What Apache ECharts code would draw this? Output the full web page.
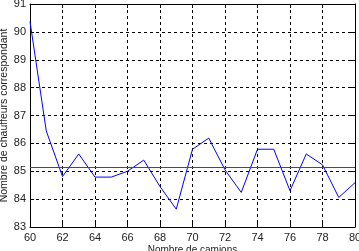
<!DOCTYPE html>
<html><head><meta charset="utf-8">
<script src="https://cdn.jsdelivr.net/npm/echarts@6/dist/echarts.min.js"></script>
<style>html,body{margin:0;padding:0;background:#fff}#c{width:359px;height:251px}</style>
</head><body><div id="c"></div>
<script>
const trucks = [60,61,62,63,64,65,66,67,68,69,70,71,72,73,74,75,76,77,78,79,80];
const drivers = [90.37,86.45,84.81,85.62,84.79,84.79,85.0,85.4,84.45,83.64,85.79,86.19,85.05,84.24,85.79,85.79,84.3,85.62,85.23,84.06,84.59];
const refLevel = 85.15;
const xTicks = {min:60, max:80, step:2};
const yTicks = {min:83, max:91, step:1};

const chart = echarts.init(document.getElementById('c'), null, {renderer:'canvas'});
const lab = {color:'#222', fontFamily:'Liberation Sans, Arial, sans-serif', fontSize:11};
const gridLine = {show:true, lineStyle:{color:'#000', type:[3,3], width:1}};
chart.setOption({
  animation:false,
  grid:{left:30, right:4, top:4, bottom:24, containLabel:false, outerBoundsMode:'none'},
  xAxis:[{
    type:'value', min:xTicks.min, max:xTicks.max, interval:xTicks.step,
    axisLine:{show:true, onZero:false, lineStyle:{color:'#000'}},
    axisTick:{show:true, inside:true, length:4, lineStyle:{color:'#000'}},
    axisLabel:Object.assign({margin:5}, lab),
    splitLine:gridLine,
    name:'Nombre de camions', nameLocation:'middle', nameGap:18, nameMoveOverlap:false,
    nameTextStyle:Object.assign({}, lab, {fontSize:10})
  },{
    type:'value', position:'top', min:xTicks.min, max:xTicks.max, interval:xTicks.step,
    axisLine:{show:true, lineStyle:{color:'#000'}},
    axisTick:{show:true, inside:true, length:4, lineStyle:{color:'#000'}},
    axisLabel:{show:false}, splitLine:{show:false}
  }],
  yAxis:[{
    type:'value', min:yTicks.min, max:yTicks.max, interval:yTicks.step,
    axisLine:{show:true, onZero:false, lineStyle:{color:'#000'}},
    axisTick:{show:true, inside:true, length:4, lineStyle:{color:'#000'}},
    axisLabel:Object.assign({margin:4}, lab),
    splitLine:gridLine,
    name:'Nombre de chauffeurs correspondant', nameLocation:'middle', nameGap:20, nameMoveOverlap:false,
    nameTextStyle:Object.assign({}, lab, {fontSize:10.5})
  },{
    type:'value', position:'right', min:yTicks.min, max:yTicks.max, interval:yTicks.step,
    axisLine:{show:true, lineStyle:{color:'#000'}},
    axisTick:{show:true, inside:true, length:4, lineStyle:{color:'#000'}},
    axisLabel:{show:false}, splitLine:{show:false}
  }],
  series:[{
    type:'line', data:trucks.map((t,i)=>[t,drivers[i]]),
    showSymbol:false, lineStyle:{color:'#0000ff', width:1},
    markLine:{silent:true, symbol:'none', label:{show:false},
      lineStyle:{color:'#ff0000', type:'solid', width:1},
      data:[{yAxis:refLevel}]}
  }]
});
</script></body></html>
